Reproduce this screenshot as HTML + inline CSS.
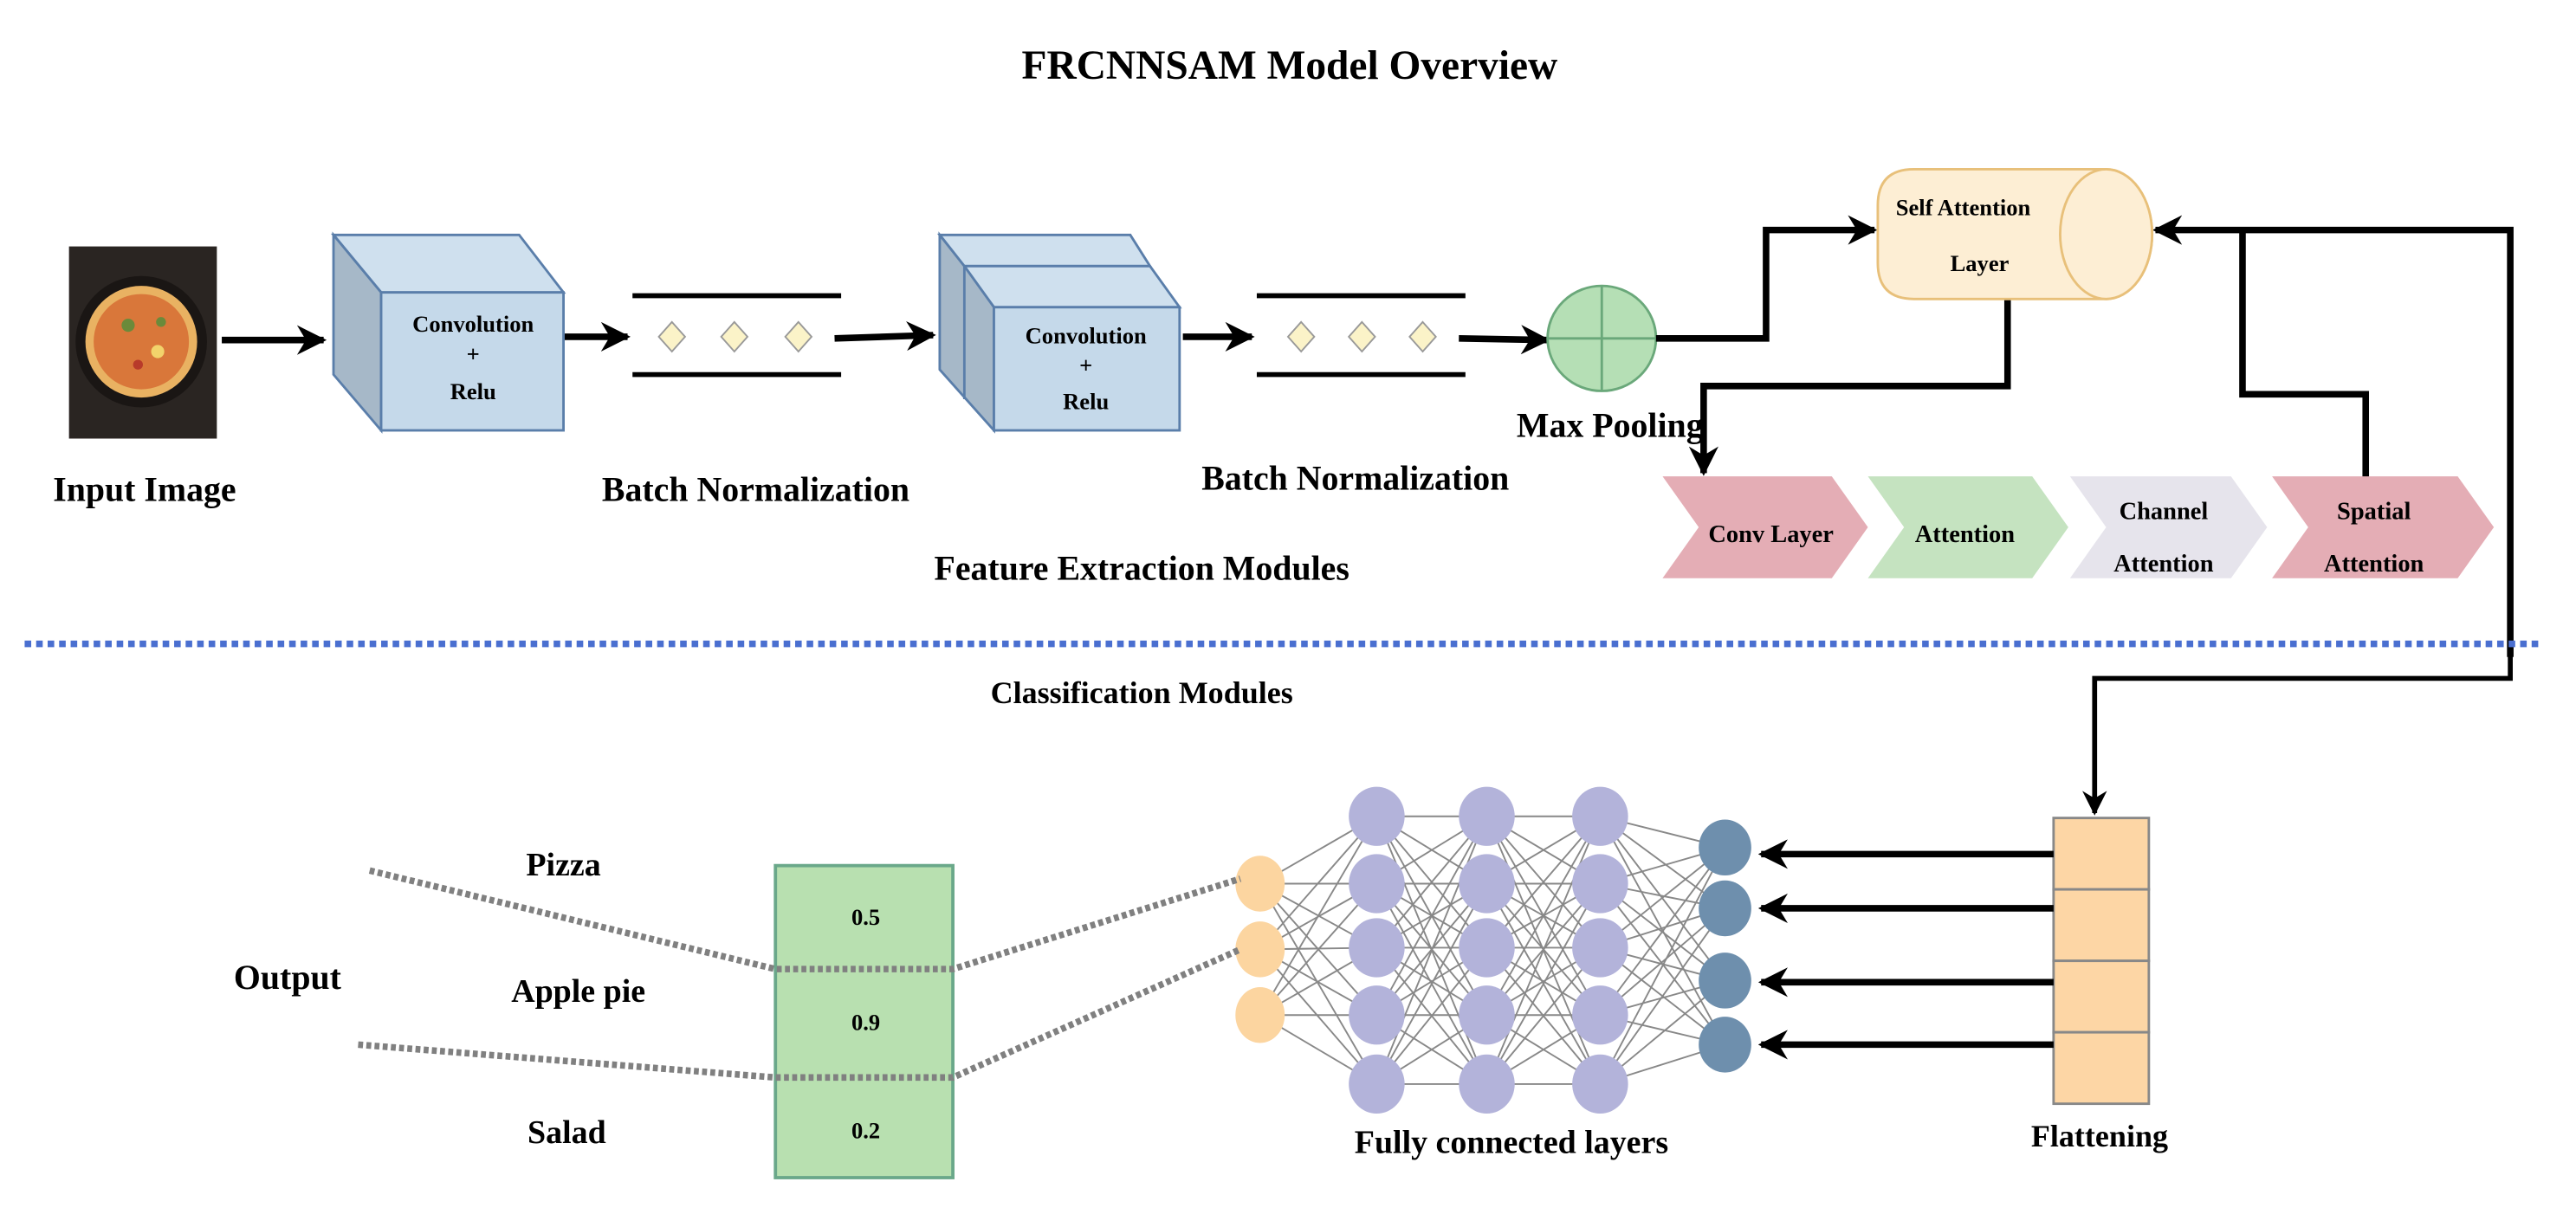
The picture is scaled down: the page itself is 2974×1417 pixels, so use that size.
<!DOCTYPE html>
<html><head><meta charset="utf-8"><style>
html,body{margin:0;padding:0;background:#fff;}
svg{display:block;}
text{font-family:"Liberation Serif",serif;font-weight:bold;fill:#000;}
</style></head><body>
<svg id="s" width="2974" height="1417" viewBox="0 0 1568 747" xmlns="http://www.w3.org/2000/svg">
<defs>
<marker id="ah" viewBox="0 0 10 10" refX="9" refY="5" markerWidth="4.5" markerHeight="4.5" orient="auto"><path d="M0,0 L10,5 L0,10 L3,5 z" fill="#000"/></marker>
<marker id="ah2" viewBox="0 0 10 10" refX="9" refY="5" markerWidth="5" markerHeight="5" orient="auto"><path d="M0,0 L10,5 L0,10 L3,5 z" fill="#000"/></marker>
</defs>
<text x="785" y="48" font-size="25" text-anchor="middle">FRCNNSAM Model Overview</text>

<!-- pizza -->
<rect x="42" y="150" width="90" height="117" fill="#2a2522"/>
<circle cx="86" cy="208" r="40" fill="#1a1614"/>
<circle cx="86" cy="208" r="34" fill="#e9b262"/>
<circle cx="86" cy="208" r="29" fill="#d9773a"/>
<circle cx="78" cy="198" r="4" fill="#6b8a3a"/><circle cx="96" cy="214" r="4" fill="#f2d36b"/><circle cx="84" cy="222" r="3" fill="#b83a2a"/><circle cx="98" cy="196" r="3" fill="#6b8a3a"/>
<text x="88" y="305" font-size="21" text-anchor="middle">Input Image</text>

<g stroke="#000" stroke-width="4" fill="none">
<line x1="135" y1="207" x2="197" y2="207" marker-end="url(#ah)"/>
<line x1="343" y1="205" x2="382" y2="205" marker-end="url(#ah)"/>
<line x1="508" y1="206" x2="568" y2="204" marker-end="url(#ah)"/>
<line x1="720" y1="205" x2="762" y2="205" marker-end="url(#ah)"/>
<line x1="888" y1="206" x2="942" y2="207" marker-end="url(#ah)"/>
</g>

<!-- cube1 -->
<polygon points="203,143 316,143 343,178 232,178" fill="#cfe0ee" stroke="#5a7eaa" stroke-width="1.5"/>
<polygon points="203,143 232,178 232,262 203,228" fill="#a6b8c8" stroke="#5a7eaa" stroke-width="1.5"/>
<rect x="232" y="178" width="111" height="84" fill="#c5d9ea" stroke="#5a7eaa" stroke-width="1.5"/>
<text x="288" y="202" font-size="14" text-anchor="middle">Convolution</text>
<text x="288" y="220" font-size="14" text-anchor="middle">+</text>
<text x="288" y="243" font-size="14" text-anchor="middle">Relu</text>

<!-- BN1 -->
<g stroke="#000" stroke-width="3"><line x1="385" y1="180" x2="512" y2="180"/><line x1="385" y1="228" x2="512" y2="228"/></g>
<g fill="#fbf3c8" stroke="#999" stroke-width="1">
<polygon points="409,196 417,205 409,214 401,205"/><polygon points="447,196 455,205 447,214 439,205"/><polygon points="486,196 494,205 486,214 478,205"/>
</g>
<text x="460" y="305" font-size="21" text-anchor="middle">Batch Normalization</text>

<!-- cube2 -->
<polygon points="572,143 688,143 700,162 587,162" fill="#cfe0ee" stroke="#5a7eaa" stroke-width="1.5"/>
<polygon points="587,162 700,162 718,187 605,187" fill="#cfe0ee" stroke="#5a7eaa" stroke-width="1.5"/>
<polygon points="572,143 587,162 605,187 605,262 572,225" fill="#a6b8c8" stroke="#5a7eaa" stroke-width="1.5"/>
<line x1="587" y1="162" x2="587" y2="243" stroke="#5a7eaa" stroke-width="1.5"/>
<rect x="605" y="187" width="113" height="75" fill="#c5d9ea" stroke="#5a7eaa" stroke-width="1.5"/>
<text x="661" y="209" font-size="14" text-anchor="middle">Convolution</text>
<text x="661" y="227" font-size="14" text-anchor="middle">+</text>
<text x="661" y="249" font-size="14" text-anchor="middle">Relu</text>

<!-- BN2 -->
<g stroke="#000" stroke-width="3"><line x1="765" y1="180" x2="892" y2="180"/><line x1="765" y1="228" x2="892" y2="228"/></g>
<g fill="#fbf3c8" stroke="#999" stroke-width="1">
<polygon points="792,196 800,205 792,214 784,205"/><polygon points="829,196 837,205 829,214 821,205"/><polygon points="866,196 874,205 866,214 858,205"/>
</g>
<text x="825" y="298" font-size="21" text-anchor="middle">Batch Normalization</text>

<!-- max pooling -->
<ellipse cx="975" cy="206" rx="33" ry="32" fill="#b5dfb5" stroke="#6aa87a" stroke-width="1.5"/>
<line x1="942" y1="206" x2="1008" y2="206" stroke="#6aa87a" stroke-width="1.5"/>
<line x1="975" y1="174" x2="975" y2="238" stroke="#6aa87a" stroke-width="1.5"/>
<text x="980" y="266" font-size="21" text-anchor="middle">Max Pooling</text>

<g stroke="#000" stroke-width="4" fill="none">
<polyline points="1008,206 1075,206 1075,140 1141,140" marker-end="url(#ah)"/>
<polyline points="1528,400 1528,140 1312,140" marker-end="url(#ah)"/>
<polyline points="1440,292 1440,240 1365,240 1365,140"/>
<polyline points="1222,182 1222,235 1037,235 1037,288" marker-end="url(#ah)"/>
</g>
<g stroke="#000" stroke-width="3" fill="none">
<polyline points="1528,395 1528,413 1275,413 1275,495" marker-end="url(#ah2)"/>
</g>

<!-- cylinder -->
<path d="M1165,103 L1282,103 A28,39.5 0 0 1 1282,182 L1165,182 Q1143,182 1143,160 L1143,125 Q1143,103 1165,103 Z" fill="#fdeed4" stroke="#e8c07a" stroke-width="1.5"/>
<ellipse cx="1282" cy="142.5" rx="28" ry="39.5" fill="#fdeed4" stroke="#e8c07a" stroke-width="1.5"/>
<text x="1195" y="131" font-size="14" text-anchor="middle">Self Attention</text>
<text x="1205" y="165" font-size="14" text-anchor="middle">Layer</text>

<!-- chevrons -->
<polygon points="1012,290 1115,290 1137,321 1115,352 1012,352 1034,321" fill="#e4adb5"/>
<polygon points="1137,290 1237,290 1259,321 1237,352 1137,352 1159,321" fill="#c5e3c0"/>
<polygon points="1260,290 1358,290 1380,321 1358,352 1260,352 1282,321" fill="#e6e4ec"/>
<polygon points="1383,290 1496,290 1518,321 1496,352 1383,352 1405,321" fill="#e4adb5"/>
<text x="1078" y="330" font-size="15" text-anchor="middle">Conv Layer</text>
<text x="1196" y="330" font-size="15" text-anchor="middle">Attention</text>
<text x="1317" y="316" font-size="15" text-anchor="middle">Channel</text>
<text x="1317" y="348" font-size="15" text-anchor="middle">Attention</text>
<text x="1445" y="316" font-size="15" text-anchor="middle">Spatial</text>
<text x="1445" y="348" font-size="15" text-anchor="middle">Attention</text>

<text x="695" y="353" font-size="21" text-anchor="middle">Feature Extraction Modules</text>

<line x1="15" y1="392" x2="1545" y2="392" stroke="#4a6fd0" stroke-width="4" stroke-dasharray="4,3"/>
<text x="695" y="428" font-size="19" text-anchor="middle">Classification Modules</text>

<!-- flattening -->
<g fill="#fdd6a5" stroke="#888" stroke-width="1.5">
<rect x="1250" y="498" width="58" height="43.5"/><rect x="1250" y="541.5" width="58" height="43.5"/><rect x="1250" y="585" width="58" height="43.5"/><rect x="1250" y="628.5" width="58" height="43.5"/>
</g>
<text x="1278" y="698" font-size="19" text-anchor="middle">Flattening</text>
<g stroke="#000" stroke-width="4" fill="none">
<line x1="1250" y1="520" x2="1072" y2="520" marker-end="url(#ah)"/>
<line x1="1250" y1="553" x2="1072" y2="553" marker-end="url(#ah)"/>
<line x1="1250" y1="598" x2="1072" y2="598" marker-end="url(#ah)"/>
<line x1="1250" y1="636" x2="1072" y2="636" marker-end="url(#ah)"/>
</g>

<g id="net" stroke="#888" stroke-width="1"></g>
<g id="nodes"></g>
<text x="920" y="702" font-size="20" text-anchor="middle">Fully connected layers</text>

<!-- output box -->
<rect x="472" y="527" width="108" height="190" fill="#b8e0b0" stroke="#6aa88a" stroke-width="2"/>
<text x="527" y="563" font-size="14" text-anchor="middle">0.5</text>
<text x="527" y="627" font-size="14" text-anchor="middle">0.9</text>
<text x="527" y="693" font-size="14" text-anchor="middle">0.2</text>
<g stroke="#808080" stroke-width="4" stroke-dasharray="3,2" fill="none">
<polyline points="225,530 472,590 580,590 755,535"/>
<polyline points="218,636 472,656 580,656 755,578"/>
</g>
<text x="343" y="533" font-size="20" text-anchor="middle">Pizza</text>
<text x="175" y="602" font-size="21" text-anchor="middle">Output</text>
<text x="352" y="610" font-size="20" text-anchor="middle">Apple pie</text>
<text x="345" y="696" font-size="20" text-anchor="middle">Salad</text>
</svg>
<script>
var NS="http://www.w3.org/2000/svg";
var L=[{x:767,ys:[538,578,618],rx:15,ry:17,c:"#fcd5a0"},
{x:838,ys:[497,538,577,618,660],rx:17,ry:18,c:"#b3b3da"},
{x:905,ys:[497,538,577,618,660],rx:17,ry:18,c:"#b3b3da"},
{x:974,ys:[497,538,577,618,660],rx:17,ry:18,c:"#b3b3da"},
{x:1050,ys:[516,553,597,636],rx:16,ry:17,c:"#6e8fad"}];
var net=document.getElementById("net"),nodes=document.getElementById("nodes");
for(var i=0;i<L.length-1;i++){var a=L[i],b=L[i+1];a.ys.forEach(function(y1){b.ys.forEach(function(y2){var l=document.createElementNS(NS,"line");l.setAttribute("x1",a.x);l.setAttribute("y1",y1);l.setAttribute("x2",b.x);l.setAttribute("y2",y2);net.appendChild(l);});});}
L.forEach(function(a){a.ys.forEach(function(y){var e=document.createElementNS(NS,"ellipse");e.setAttribute("cx",a.x);e.setAttribute("cy",y);e.setAttribute("rx",a.rx);e.setAttribute("ry",a.ry);e.setAttribute("fill",a.c);nodes.appendChild(e);});});
</script>
</body></html>
